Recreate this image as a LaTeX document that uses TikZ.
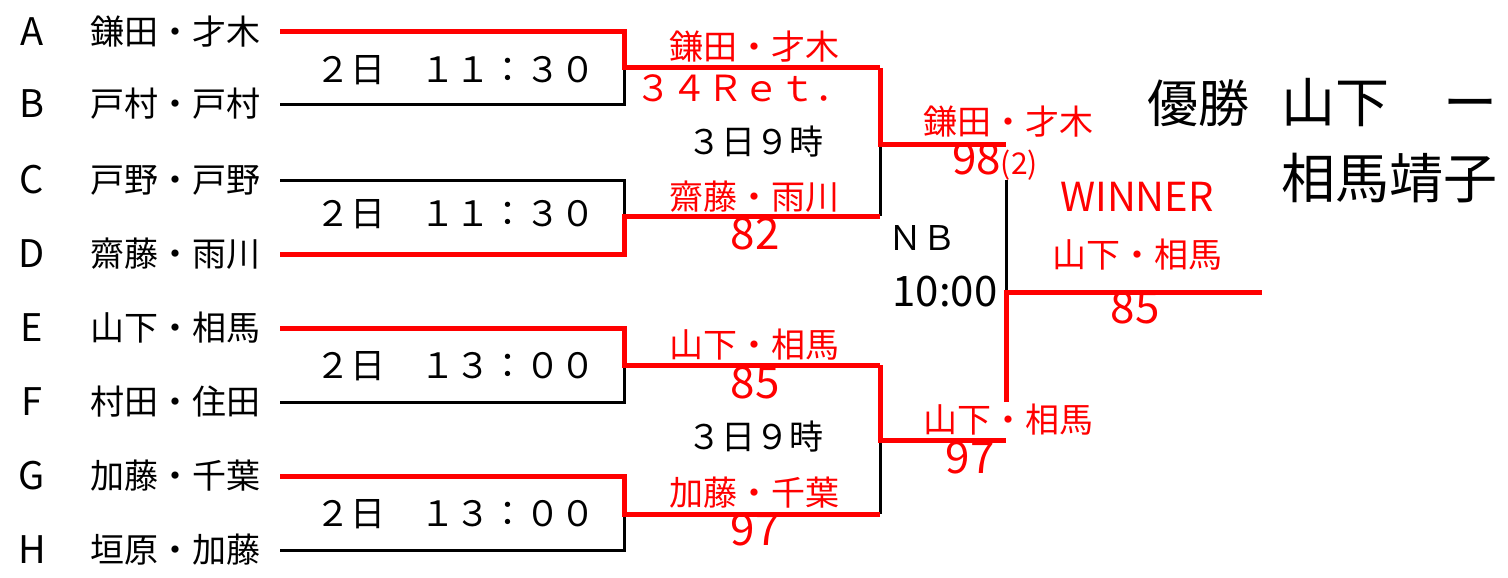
\documentclass[tikz,border=0pt]{standalone}
\usepackage{fontspec}
\setmainfont{Noto Sans CJK JP}

\begin{document}
\begin{tikzpicture}[x=1pt,y=-1pt,
	win/.style={draw=red,line width=5pt},
	lose/.style={draw=black,line width=3pt},
	seed/.style={font=\fontsize{38}{40}\selectfont},
	entry/.style={font=\fontsize{34}{36}\selectfont},
	slot/.style={font=\fontsize{34}{36}\selectfont},
	res/.style={text=red,inner sep=0.5pt,font=\fontsize{34}{36}\selectfont},
	score/.style={text=red,inner sep=0.5pt,font=\fontsize{44}{46}\selectfont}]
	\useasboundingbox (0,0) rectangle (1508,578);
	% players
	\foreach \k/\n/\y in {A/鎌田・才木/32,B/戸村・戸村/104,C/戸野・戸野/180,D/齋藤・雨川/254,
		E/山下・相馬/328,F/村田・住田/402,G/加藤・千葉/476,H/垣原・加藤/550}{
		\node[seed] (l\k) at (32,\y) {\k};
		\node[entry] (n\k) at (175,\y) {\n};
		\coordinate (p\k) at (280,\y);
	}
	% junctions
	\coordinate (q1) at (624,68);  \coordinate (r1) at (880,68);
	\coordinate (q2) at (624,216); \coordinate (r2) at (880,216);
	\coordinate (q3) at (624,365); \coordinate (r3) at (880,365);
	\coordinate (q4) at (624,514); \coordinate (r4) at (880,514);
	\coordinate (s1) at (880,144); \coordinate (t1) at (1006,144);
	\coordinate (s2) at (880,440); \coordinate (t2) at (1006,440);
	\coordinate (u1) at (1006,180); \coordinate (u2) at (1006,402);
	\coordinate (f) at (1006,292);  \coordinate (w) at (1262,292);
	% losers
	\draw[lose] (pB) -| (q1);
	\draw[lose] (pC) -| (q2);
	\draw[lose] (pF) -| (q3);
	\draw[lose] (pH) -| (q4);
	\draw[lose] (r2) -- (s1);
	\draw[lose] (r4) -- (s2);
	\draw[lose] (u1) -- (f);
	% winners
	\draw[win] (pA) -| (q1) -- (r1);
	\draw[win] (pD) -| (q2) -- (r2);
	\draw[win] (pE) -| (q3) -- (r3);
	\draw[win] (pG) -| (q4) -- (r4);
	\draw[win] (r1) |- (t1);
	\draw[win] (r3) |- (t2);
	\draw[win] (u2) |- (w);
	% times
	\node[slot,font=\fontsize{35}{36}\selectfont] (m1) at (455,70) {２日　１１：３０};
	\node[slot,font=\fontsize{35}{36}\selectfont] (m2) at (455,214) {２日　１１：３０};
	\node[slot,font=\fontsize{35}{36}\selectfont] (m3) at (455,366) {２日　１３：００};
	\node[slot,font=\fontsize{35}{36}\selectfont] (m4) at (455,514) {２日　１３：００};
	\node[slot] (d1) at (755,142) {３日９時};
	\node[slot] (d2) at (755,437) {３日９時};
	\node[slot] (nb) at (922,238) {ＮＢ};
	\node[slot,font=\fontsize{42}{44}\selectfont] (ft) at (945,292) {10:00};
	% results
	\node[res] (w1) at (754,47) {鎌田・才木};
	\node[score,font=\fontsize{36}{40}\selectfont] (x1) at (743,88) {３４Ｒｅｔ．};
	\node[res] (w2) at (754,197) {齋藤・雨川};
	\node[score] (x2) at (755,234) {82};
	\node[res] (w3) at (754,345) {山下・相馬};
	\node[score] (x3) at (755,383) {85};
	\node[res] (w4) at (754,493) {加藤・千葉};
	\node[score] (x4) at (755,530) {97};
	\node[res] (w5) at (1008,122) {鎌田・才木};
	\node[score] (x5) at (995,161) {98{\fontsize{30}{32}\selectfont(2)}};
	\node[res] (w6) at (1008,420) {山下・相馬};
	\node[score] (x6) at (970,458) {97};
	\node[score,font=\fontsize{40}{42}\selectfont] (wt) at (1137,197) {WINNER};
	\node[res] (w7) at (1137,255) {山下・相馬};
	\node[score] (x7) at (1135,308) {85};
	% champion
	\node[font=\fontsize{51}{54}\selectfont] (ch) at (1198,103) {優勝};
	\node[font=\fontsize{54}{56}\selectfont,anchor=west] (c1) at (1278,103) {山下　ー};
	\node[font=\fontsize{54}{56}\selectfont,anchor=west] (c2) at (1278,178) {相馬靖子};
\end{tikzpicture}
\end{document}
